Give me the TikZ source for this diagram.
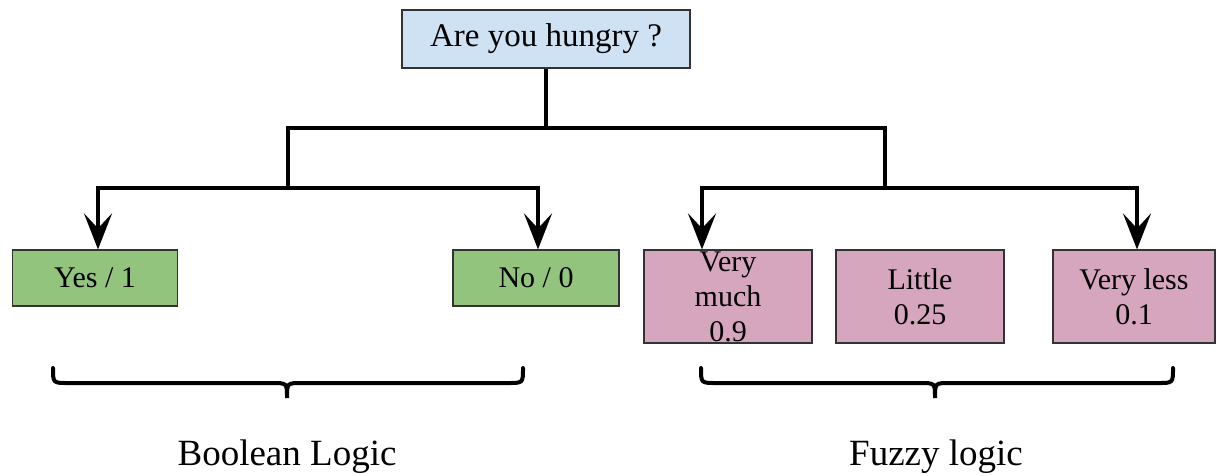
\documentclass[tikz,border=0pt]{standalone}
\usepackage{fontspec}
\setmainfont{Liberation Serif}
\usetikzlibrary{arrows.meta}

\definecolor{askblue}{HTML}{CFE2F3}
\definecolor{boolgreen}{HTML}{93C47D}
\definecolor{fuzzpink}{HTML}{D5A6BD}

\begin{document}
\begin{tikzpicture}[x=1pt, y=-1pt, line width=4pt,
    box/.style={draw=black!80, line width=1.2pt, inner sep=0pt, align=center, font=\fontsize{30}{35}\selectfont},
    branch/.style={-{Stealth[length=36pt, width=28pt, inset=15pt]}, line width=4pt}]
    \useasboundingbox (0,0) rectangle (1217,475);

    \node[box, fill=askblue, minimum width=288pt, minimum height=58pt, font=\fontsize{33}{40}\selectfont] (ask) at (546,39) {Are you hungry ?};

    \node[box, fill=boolgreen, minimum width=165pt, minimum height=56pt] (yes) at (95,278) {Yes / 1};
    \node[box, fill=boolgreen, minimum width=166pt, minimum height=56pt] (no) at (536,278) {No / 0};

    \node[box, fill=fuzzpink, minimum width=168pt, minimum height=93pt] (vmuch) at (728,296.5) {Very\\much\\0.9};
    \node[box, fill=fuzzpink, minimum width=168pt, minimum height=93pt] (little) at (920,296.5) {Little\\0.25};
    \node[box, fill=fuzzpink, minimum width=162pt, minimum height=93pt] (vless) at (1134,296.5) {Very less\\0.1};

    \coordinate (bool) at (288,128);
    \coordinate (fuzz) at (885,128);

    \draw (ask.south) -- (ask |- bool);
    \draw[line cap=rect] (bool) -- (fuzz);

    \draw[branch] (bool) -- ++(0,60) -| ([xshift=3pt]yes.north);
    \draw[branch] (bool) -- ++(0,60) -| ([xshift=2pt]no.north);
    \draw[branch] (fuzz) -- ++(0,60) -| ([xshift=-26pt]vmuch.north);
    \draw[branch] (fuzz) -- ++(0,60) -| ([xshift=3pt]vless.north);

    % braces
    \draw[line cap=round] (53,368) .. controls (53,383) .. (68,383) -- (272,383)
        .. controls (287,383) .. (287,398) .. controls (287,383) .. (302,383) -- (508,383) .. controls (523,383) .. (523,368);
    \draw[line cap=round] (701,368) .. controls (701,383) .. (716,383) -- (920,383)
        .. controls (935,383) .. (935,398) .. controls (935,383) .. (950,383) -- (1158,383) .. controls (1173,383) .. (1173,368);

    \node[anchor=base, font=\fontsize{37}{44}\selectfont] (boollbl) at (287,465) {Boolean Logic};
    \node[anchor=base, font=\fontsize{37}{44}\selectfont] (fuzzlbl) at (936,465) {Fuzzy logic};
\end{tikzpicture}
\end{document}
